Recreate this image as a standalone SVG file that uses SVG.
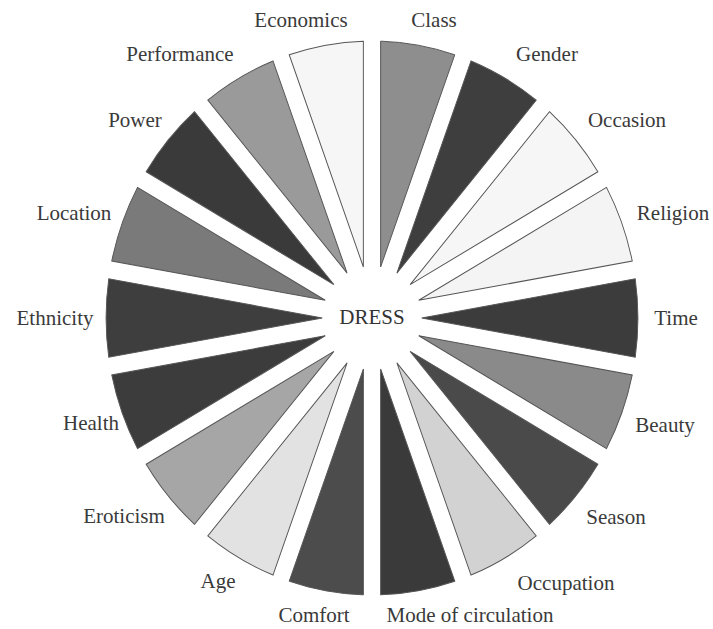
<svg xmlns="http://www.w3.org/2000/svg" xmlns:xlink="http://www.w3.org/1999/xlink" width="713" height="629" viewBox="0 0 713 629">
  <style>
    .w { stroke: #555; stroke-width: 1; vector-effect: non-scaling-stroke; stroke-linejoin: miter; }
    .lbl { font-family: "Liberation Serif", "DejaVu Serif", serif; font-size: 21px; fill: #3a3a3a; text-anchor: middle; }
    .hub { font-family: "Liberation Serif", "DejaVu Serif", serif; font-size: 21px; fill: #333; text-anchor: middle; }
    .dark { fill: #3d3d3d; }
  </style>
  <defs>
    <!-- one 20-degree spoke, edges pulled in 9px each side so the gaps stay parallel -->
    <path id="wedge" d="M 9,-51.04 L 9,-276.85 A 277 277 0 0 1 86.23,-263.23 Z"/>
  </defs>
  <rect width="713" height="629" fill="#fff"/>

  <g id="class"><use xlink:href="#wedge" class="w" fill="#8e8e8e" transform="translate(372 318) scale(0.96 1) rotate(0)"/><text class="lbl" x="434" y="27">Class</text></g>
  <g id="gender"><use xlink:href="#wedge" class="w" fill="#3e3e3e" transform="translate(372 318) scale(0.96 1) rotate(20)"/><text class="lbl" x="547" y="61">Gender</text></g>
  <g id="occasion"><use xlink:href="#wedge" class="w" fill="#f6f6f6" transform="translate(372 318) scale(0.96 1) rotate(40)"/><text class="lbl" x="627" y="127">Occasion</text></g>
  <g id="religion"><use xlink:href="#wedge" class="w" fill="#f4f4f4" transform="translate(372 318) scale(0.96 1) rotate(60)"/><text class="lbl" x="673" y="220">Religion</text></g>
  <g id="time"><use xlink:href="#wedge" class="w" fill="#3c3c3c" transform="translate(372 318) scale(0.96 1) rotate(80)"/><text class="lbl" x="676" y="325">Time</text></g>
  <g id="beauty"><use xlink:href="#wedge" class="w" fill="#8a8a8a" transform="translate(372 318) scale(0.96 1) rotate(100)"/><text class="lbl" x="665" y="432">Beauty</text></g>
  <g id="season"><use xlink:href="#wedge" class="w" fill="#4a4a4a" transform="translate(372 318) scale(0.96 1) rotate(120)"/><text class="lbl" x="616" y="524">Season</text></g>
  <g id="occupation"><use xlink:href="#wedge" class="w" fill="#d2d2d2" transform="translate(372 318) scale(0.96 1) rotate(140)"/><text class="lbl" x="566" y="590">Occupation</text></g>
  <g id="mode-of-circulation"><use xlink:href="#wedge" class="w" fill="#3a3a3a" transform="translate(372 318) scale(0.96 1) rotate(160)"/><text class="lbl" x="470" y="622">Mode of circulation</text></g>
  <g id="comfort"><use xlink:href="#wedge" class="w" fill="#4c4c4c" transform="translate(372 318) scale(0.96 1) rotate(180)"/><text class="lbl" x="314" y="622">Comfort</text></g>
  <g id="age"><use xlink:href="#wedge" class="w" fill="#e2e2e2" transform="translate(372 318) scale(0.96 1) rotate(200)"/><text class="lbl" x="218" y="588">Age</text></g>
  <g id="eroticism"><use xlink:href="#wedge" class="w" fill="#a6a6a6" transform="translate(372 318) scale(0.96 1) rotate(220)"/><text class="lbl" x="124" y="523">Eroticism</text></g>
  <g id="health"><use xlink:href="#wedge" class="w" fill="#3c3c3c" transform="translate(372 318) scale(0.96 1) rotate(240)"/><text class="lbl" x="91" y="430">Health</text></g>
  <g id="ethnicity"><use xlink:href="#wedge" class="w" fill="#3e3e3e" transform="translate(372 318) scale(0.96 1) rotate(260)"/><text class="lbl" x="55" y="325">Ethnicity</text></g>
  <g id="location"><use xlink:href="#wedge" class="w" fill="#7a7a7a" transform="translate(372 318) scale(0.96 1) rotate(280)"/><text class="lbl" x="74" y="220">Location</text></g>
  <g id="power"><use xlink:href="#wedge" class="w" fill="#3a3a3a" transform="translate(372 318) scale(0.96 1) rotate(300)"/><text class="lbl" x="135" y="127">Power</text></g>
  <g id="performance"><use xlink:href="#wedge" class="w" fill="#9a9a9a" transform="translate(372 318) scale(0.96 1) rotate(320)"/><text class="lbl" x="180" y="61">Performance</text></g>
  <g id="economics"><use xlink:href="#wedge" class="w" fill="#f6f6f6" transform="translate(372 318) scale(0.96 1) rotate(340)"/><text class="lbl" x="301" y="27">Economics</text></g>

  <g id="dress"><text class="hub" x="372" y="324">DRESS</text></g>
</svg>
